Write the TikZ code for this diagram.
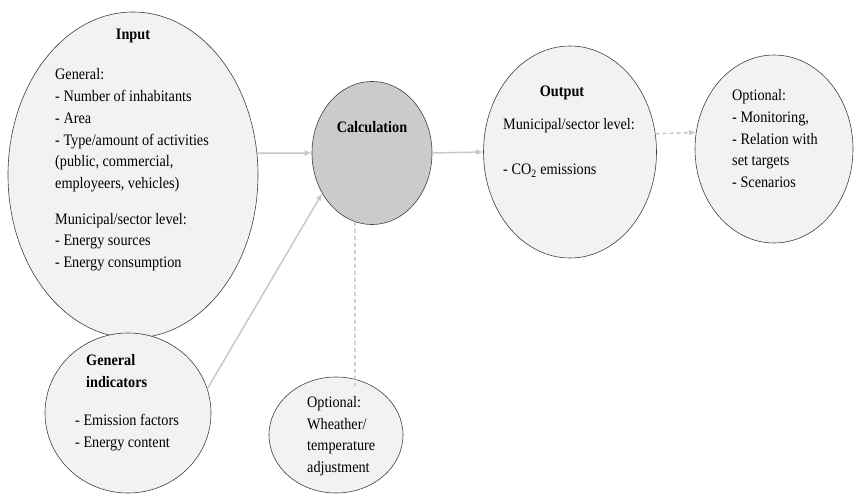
\documentclass[tikz,border=0pt]{standalone}
\usepackage{fontspec}
\setmainfont[FakeStretch=0.89]{Liberation Serif}
\usetikzlibrary{shapes.geometric,arrows.meta}

\definecolor{bubblefill}{HTML}{F2F2F2}
\definecolor{calcfill}{HTML}{CBCBCB}
\definecolor{bubbleline}{HTML}{404040}
\definecolor{flowline}{HTML}{C8C8C8}

\tikzset{
  bubble/.style={ellipse, draw=bubbleline, line width=0.6pt, fill=bubblefill, inner sep=0pt},
  % multi-line texts are placed by the baseline of their last line
  txt/.style={inner sep=0pt, anchor=base west, align=left,
    font=\fontsize{16}{21.7}\selectfont},
  ttl/.style={inner sep=0pt, anchor=base, align=left,
    font=\fontsize{16}{21.7}\selectfont\bfseries},
  flow/.style={draw=flowline, line width=1.5pt,
    -{Latex[length=7pt,width=6pt]}},
  dflow/.style={flow, dash pattern=on 4pt off 3pt},
}

\begin{document}
\begin{tikzpicture}[x=1pt, y=-1pt]
\useasboundingbox (0,0) rectangle (856,495);

% ellipses
\node[bubble, minimum width=250pt, minimum height=326pt] (input) at (133,175) {};
\node[bubble, minimum width=166pt, minimum height=160pt] (gi) at (128,413) {};
\node[bubble, fill=calcfill, minimum width=120pt, minimum height=143pt] (calc) at (372,153) {};
\node[bubble, minimum width=173pt, minimum height=212pt] (output) at (570,152) {};
\node[bubble, minimum width=158pt, minimum height=188pt] (optout) at (774,149) {};
\node[bubble, minimum width=134pt, minimum height=116pt] (optcalc) at (336,435) {};

% connectors
\draw[flow] (input.10) -- (calc.west);
\draw[flow] (gi.17) -- (calc.219);
\draw[flow] (calc.east) -- (output.west);
\draw[dflow] (output.12) -- (optout.168);
\coordinate (wend) at (355,386);
\draw[draw=flowline, line width=1.5pt, dash pattern=on 4pt off 3pt] (calc.256) -- (wend);

% texts
\node[ttl] (inputttl) at (133,39.5) {Input};
\node[txt] (inputtxt) at (55,267.5) {General:\\
- Number of inhabitants\\
- Area\\
- Type/amount of activities\\
(public, commercial,\\
employeers, vehicles)\\[14pt]
Municipal/sector level:\\
- Energy sources\\
- Energy consumption};

\node[ttl, anchor=base west] (gittl) at (86,387.5) {General\\indicators};
\node[txt] (gitxt) at (75,447.5) {- Emission factors\\- Energy content};

\node[ttl] (calcttl) at (372,132.5) {Calculation};

\node[ttl] (outputttl) at (562,96.5) {Output};
\node[txt] (outputtxt) at (503,129.5) {Municipal/sector level:};
\node[txt] (co2) at (503,174.5) {- CO\textsubscript{2} emissions};

\node[txt] (optouttxt) at (732,187.5) {Optional:\\
- Monitoring,\\
- Relation with\\
set targets\\
- Scenarios};

\node[txt] (optcalctxt) at (307,472.5) {Optional:\\
Wheather/\\
temperature\\
adjustment};
\end{tikzpicture}
\end{document}
